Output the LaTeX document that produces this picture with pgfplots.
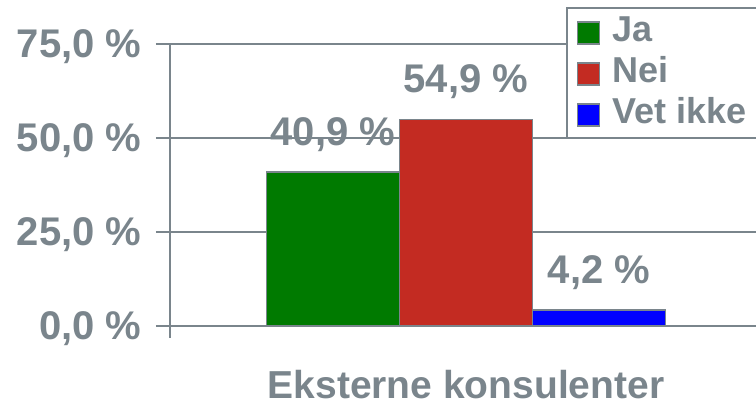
\documentclass[border=0pt]{standalone}
\usepackage{pgfplots}
\pgfplotsset{compat=1.18}
\usepackage{fontspec}
\setmainfont{Liberation Sans}
\definecolor{txt}{RGB}{122,133,140}
\definecolor{cja}{RGB}{0,122,0}
\definecolor{cnei}{RGB}{195,43,34}
\definecolor{cvet}{RGB}{0,0,255}
\pgfplotsset{
  sqlegend/.style={legend image code/.code={\draw[##1, draw=txt, line width=1.5pt] (0pt,-12pt) rectangle (22pt,10pt);}},
}
\begin{document}
\begin{tikzpicture}[x=1pt,y=1pt]
\path[use as bounding box] (0,0) rectangle (756,403);
\clip (0,0) rectangle (756,403);
\begin{pgfinterruptboundingbox}
\begin{axis}[
  at={(170pt,77pt)}, anchor=south west,
  scale only axis, width=592pt, height=282pt,
  xmin=-1, xmax=1, ymin=0, ymax=75,
  axis lines*=left,
  x axis line style={draw=none},
  y axis line style={txt, line width=2pt, shorten <=-12pt},
  xtick={0}, xticklabels={Eksterne konsulenter},
  xtick style={draw=none},
  xticklabel style={anchor=base, yshift=-59pt, font=\fontsize{39}{44}\selectfont\bfseries},
  ytick={0,25,50,75},
  yticklabels={{0,0 \%},{25,0 \%},{50,0 \%},{75,0 \%}},
  ytick style={txt, line width=2pt},
  tick align=outside, major tick length=14pt,
  yticklabel style={anchor=base east, yshift=-14pt, xshift=-11pt},
  ticklabel style={font=\fontsize{40}{44}\selectfont\bfseries, text=txt},
  ymajorgrids, major grid style={txt, line width=2pt},
  ybar=0pt, bar width=133pt,
  point meta=explicit symbolic,
  nodes near coords,
  every node near coord/.append style={font=\fontsize{40}{44}\selectfont\bfseries, text=txt, anchor=base, yshift=27pt},
  legend style={at={(0.6689,1.1312)}, anchor=north west, draw=txt, line width=2pt, fill=white,
    font=\fontsize{36}{40}\selectfont\bfseries, text=txt, inner xsep=10pt, inner ysep=6pt,
    nodes={inner sep=1pt, text height=26pt, text depth=8pt}, row sep=5pt,
    /tikz/every odd column/.append style={column sep=11pt}},
  legend cell align=left,
]
\addplot[fill=cja, draw=txt, line width=1.5pt, sqlegend] coordinates {(0,40.9) [40,9 \%]};
\addplot[fill=cnei, draw=txt, line width=1.5pt, sqlegend] coordinates {(0,54.9) [54,9 \%]};
\addplot[fill=cvet, draw=txt, line width=1.5pt, sqlegend] coordinates {(0,4.2) [4,2 \%]};
\legend{Ja, Nei, Vet ikke\hspace*{20pt}}
\end{axis}
\end{pgfinterruptboundingbox}
\end{tikzpicture}
\end{document}
